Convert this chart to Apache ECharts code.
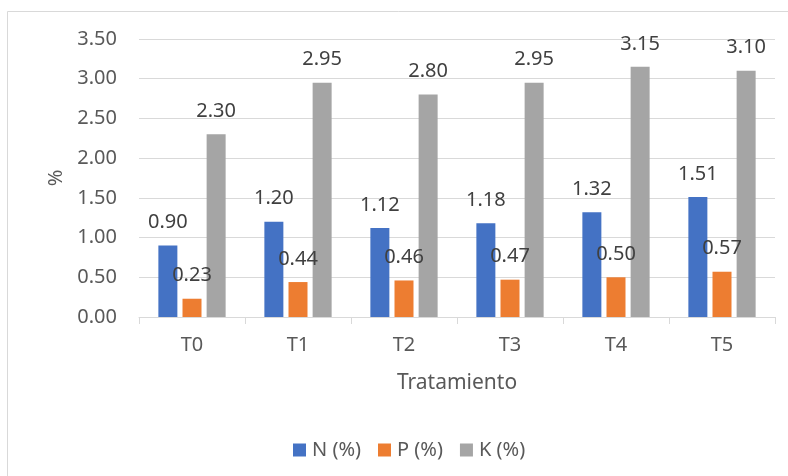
<!DOCTYPE html>
<html>
<head>
<meta charset="utf-8">
<script src="https://cdn.jsdelivr.net/npm/echarts@6/dist/echarts.min.js"></script>
<style>
  html, body { margin: 0; padding: 0; background: #ffffff; }
  #chart { width: 788px; height: 476px; }
</style>
</head>
<body>
<div id="chart"></div>
<script>
// Treatments and nutrient contents (%)
const categories = ['T0', 'T1', 'T2', 'T3', 'T4', 'T5'];
const seriesNames = ['N (%)', 'P (%)', 'K (%)'];
const nValues = [0.90, 1.20, 1.12, 1.18, 1.32, 1.51];
const pValues = [0.23, 0.44, 0.46, 0.47, 0.50, 0.57];
const kValues = [2.30, 2.95, 2.80, 2.95, 3.15, 3.10];
const colors = ['#4472C4', '#ED7D31', '#A5A5A5'];

const FONT = 'Noto Sans';
const textColor = '#595959';

const chart = echarts.init(document.getElementById('chart'), null, { renderer: 'canvas' });

function barSeries(name, data, color) {
  return {
    name: name,
    type: 'bar',
    data: data,
    barWidth: 19,
    barGap: '27%',
    itemStyle: { color: color },
    label: {
      show: true,
      position: 'top',
      distance: 13,
      color: '#404040',
      fontFamily: FONT,
      fontSize: 20,
      formatter: p => p.value.toFixed(2)
    },
    emphasis: { disabled: true }
  };
}

chart.setOption({
  animation: false,
  backgroundColor: '#ffffff',
  textStyle: { fontFamily: FONT },
  graphic: [{
    type: 'rect',
    shape: { x: 7.5, y: 11.5, width: 800, height: 500 },
    style: { fill: null, stroke: '#D9D9D9', lineWidth: 1 },
    silent: true,
    z: -10
  }],
  grid: { left: 139, right: 13, top: 39, bottom: 159, containLabel: false },
  legend: {
    data: seriesNames,
    bottom: 11,
    left: 288,
    itemWidth: 13,
    itemHeight: 13,
    itemGap: 17,
    icon: 'rect',
    textStyle: { color: textColor, fontFamily: FONT, fontSize: 20, padding: [0, 0, 0, 1] }
  },
  xAxis: {
    type: 'category',
    data: categories,
    name: 'Tratamiento',
    nameLocation: 'middle',
    nameGap: 56,
    nameTextStyle: { color: textColor, fontFamily: FONT, fontSize: 21 },
    axisLine: { lineStyle: { color: '#D9D9D9', width: 1 } },
    axisTick: { show: true, length: 7, lineStyle: { color: '#D9D9D9' } },
    axisLabel: { color: textColor, fontFamily: FONT, fontSize: 20, margin: 18 }
  },
  yAxis: {
    type: 'value',
    min: 0,
    max: 3.5,
    interval: 0.5,
    name: '%',
    nameLocation: 'middle',
    nameGap: 73,
    nameRotate: 90,
    nameTextStyle: { color: textColor, fontFamily: FONT, fontSize: 20 },
    axisLine: { show: false },
    axisTick: { show: false },
    splitLine: { lineStyle: { color: '#D9D9D9', width: 1 } },
    axisLabel: {
      color: textColor, fontFamily: FONT, fontSize: 20, margin: 22,
      formatter: v => v.toFixed(2)
    }
  },
  series: [
    barSeries(seriesNames[0], nValues, colors[0]),
    barSeries(seriesNames[1], pValues, colors[1]),
    barSeries(seriesNames[2], kValues, colors[2])
  ]
});
</script>
</body>
</html>
